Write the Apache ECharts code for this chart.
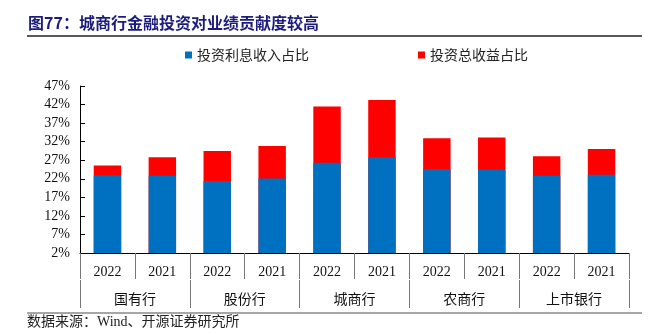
<!DOCTYPE html>
<html>
<head>
<meta charset="utf-8">
<script src="https://cdn.jsdelivr.net/npm/echarts@6/dist/echarts.min.js"></script>
<style>
html,body{margin:0;padding:0;background:#fff;}
#c{width:649px;height:334px;}
</style>
</head>
<body>
<div id="c"></div>
<script>
const years = ['2022','2021','2022','2021','2022','2021','2022','2021','2022','2021'];
const groups = ['国有行','股份行','城商行','农商行','上市银行'];
const interestShare = [22.9, 22.8, 21.4, 22.1, 26.3, 27.8, 24.6, 24.5, 22.8, 23.1];
const totalShare = [25.6, 27.8, 29.5, 30.8, 41.5, 43.2, 32.9, 33.1, 28.1, 30.0];
const seriesNames = ['投资利息收入占比','投资总收益占比'];

const serif = '"Liberation Serif", "Noto Sans CJK SC", serif';
const cjk = '"Noto Sans CJK SC", sans-serif';

const chart = echarts.init(document.getElementById('c'), null, {renderer:'canvas'});
chart.setOption({
  animation:false,
  backgroundColor:'#fff',
  graphic:[
    {type:'text', left:28, top:15, style:{text:'图77：城商行金融投资对业绩贡献度较高', font:'bold 16px "Noto Sans CJK SC"', fill:'#1c1c7c'}},
    {type:'line', shape:{x1:27,y1:36,x2:642,y2:36}, style:{stroke:'#222',lineWidth:1.5}},
    {type:'line', shape:{x1:27,y1:313,x2:642,y2:313}, style:{stroke:'#888',lineWidth:1.5}},
    {type:'text', left:27, top:315, style:{text:'数据来源：Wind、开源证券研究所', font:'14px ' + serif, fill:'#222'}}
  ],
  legend:[
    {data:[seriesNames[0]], left:180, top:43, icon:'rect', itemWidth:7, itemHeight:7, itemGap:4,
     textStyle:{fontFamily:cjk, fontSize:14, color:'#222'}},
    {data:[seriesNames[1]], left:413, top:43, icon:'rect', itemWidth:7, itemHeight:7, itemGap:4,
     textStyle:{fontFamily:cjk, fontSize:14, color:'#222'}}
  ],
  grid:{left:80, right:20, top:86, bottom:81, containLabel:false},
  xAxis:[
    {type:'category', data:years, position:'bottom',
     axisLine:{show:true, lineStyle:{color:'#000', width:1}},
     axisTick:{show:true, interval:0, length:26, lineStyle:{color:'#777'}},
     axisLabel:{interval:0, margin:12, fontFamily:serif, fontSize:14, color:'#111'}},
    {type:'category', data:groups, position:'bottom', offset:27,
     axisLine:{show:false},
     axisTick:{show:true, interval:0, length:28, lineStyle:{color:'#777'}},
     axisLabel:{interval:0, margin:12, fontFamily:cjk, fontSize:14, color:'#111'}}
  ],
  yAxis:{type:'value', min:2, max:47, interval:5,
    axisLine:{show:true, lineStyle:{color:'#000'}},
    axisTick:{show:true, inside:true, length:5, lineStyle:{color:'#000'}},
    splitLine:{show:false},
    axisLabel:{formatter:'{value}%', margin:10, fontFamily:serif, fontSize:14, color:'#111'}},
  series:[
    {name:seriesNames[1], type:'bar', xAxisIndex:0, data:totalShare, barWidth:'50%', barGap:'-100%',
     itemStyle:{color:'#FF0000'}},
    {name:seriesNames[0], type:'bar', xAxisIndex:0, data:interestShare, barWidth:'50%', barGap:'-100%',
     itemStyle:{color:'#0070C0'}}
  ]
});
</script>
</body>
</html>
